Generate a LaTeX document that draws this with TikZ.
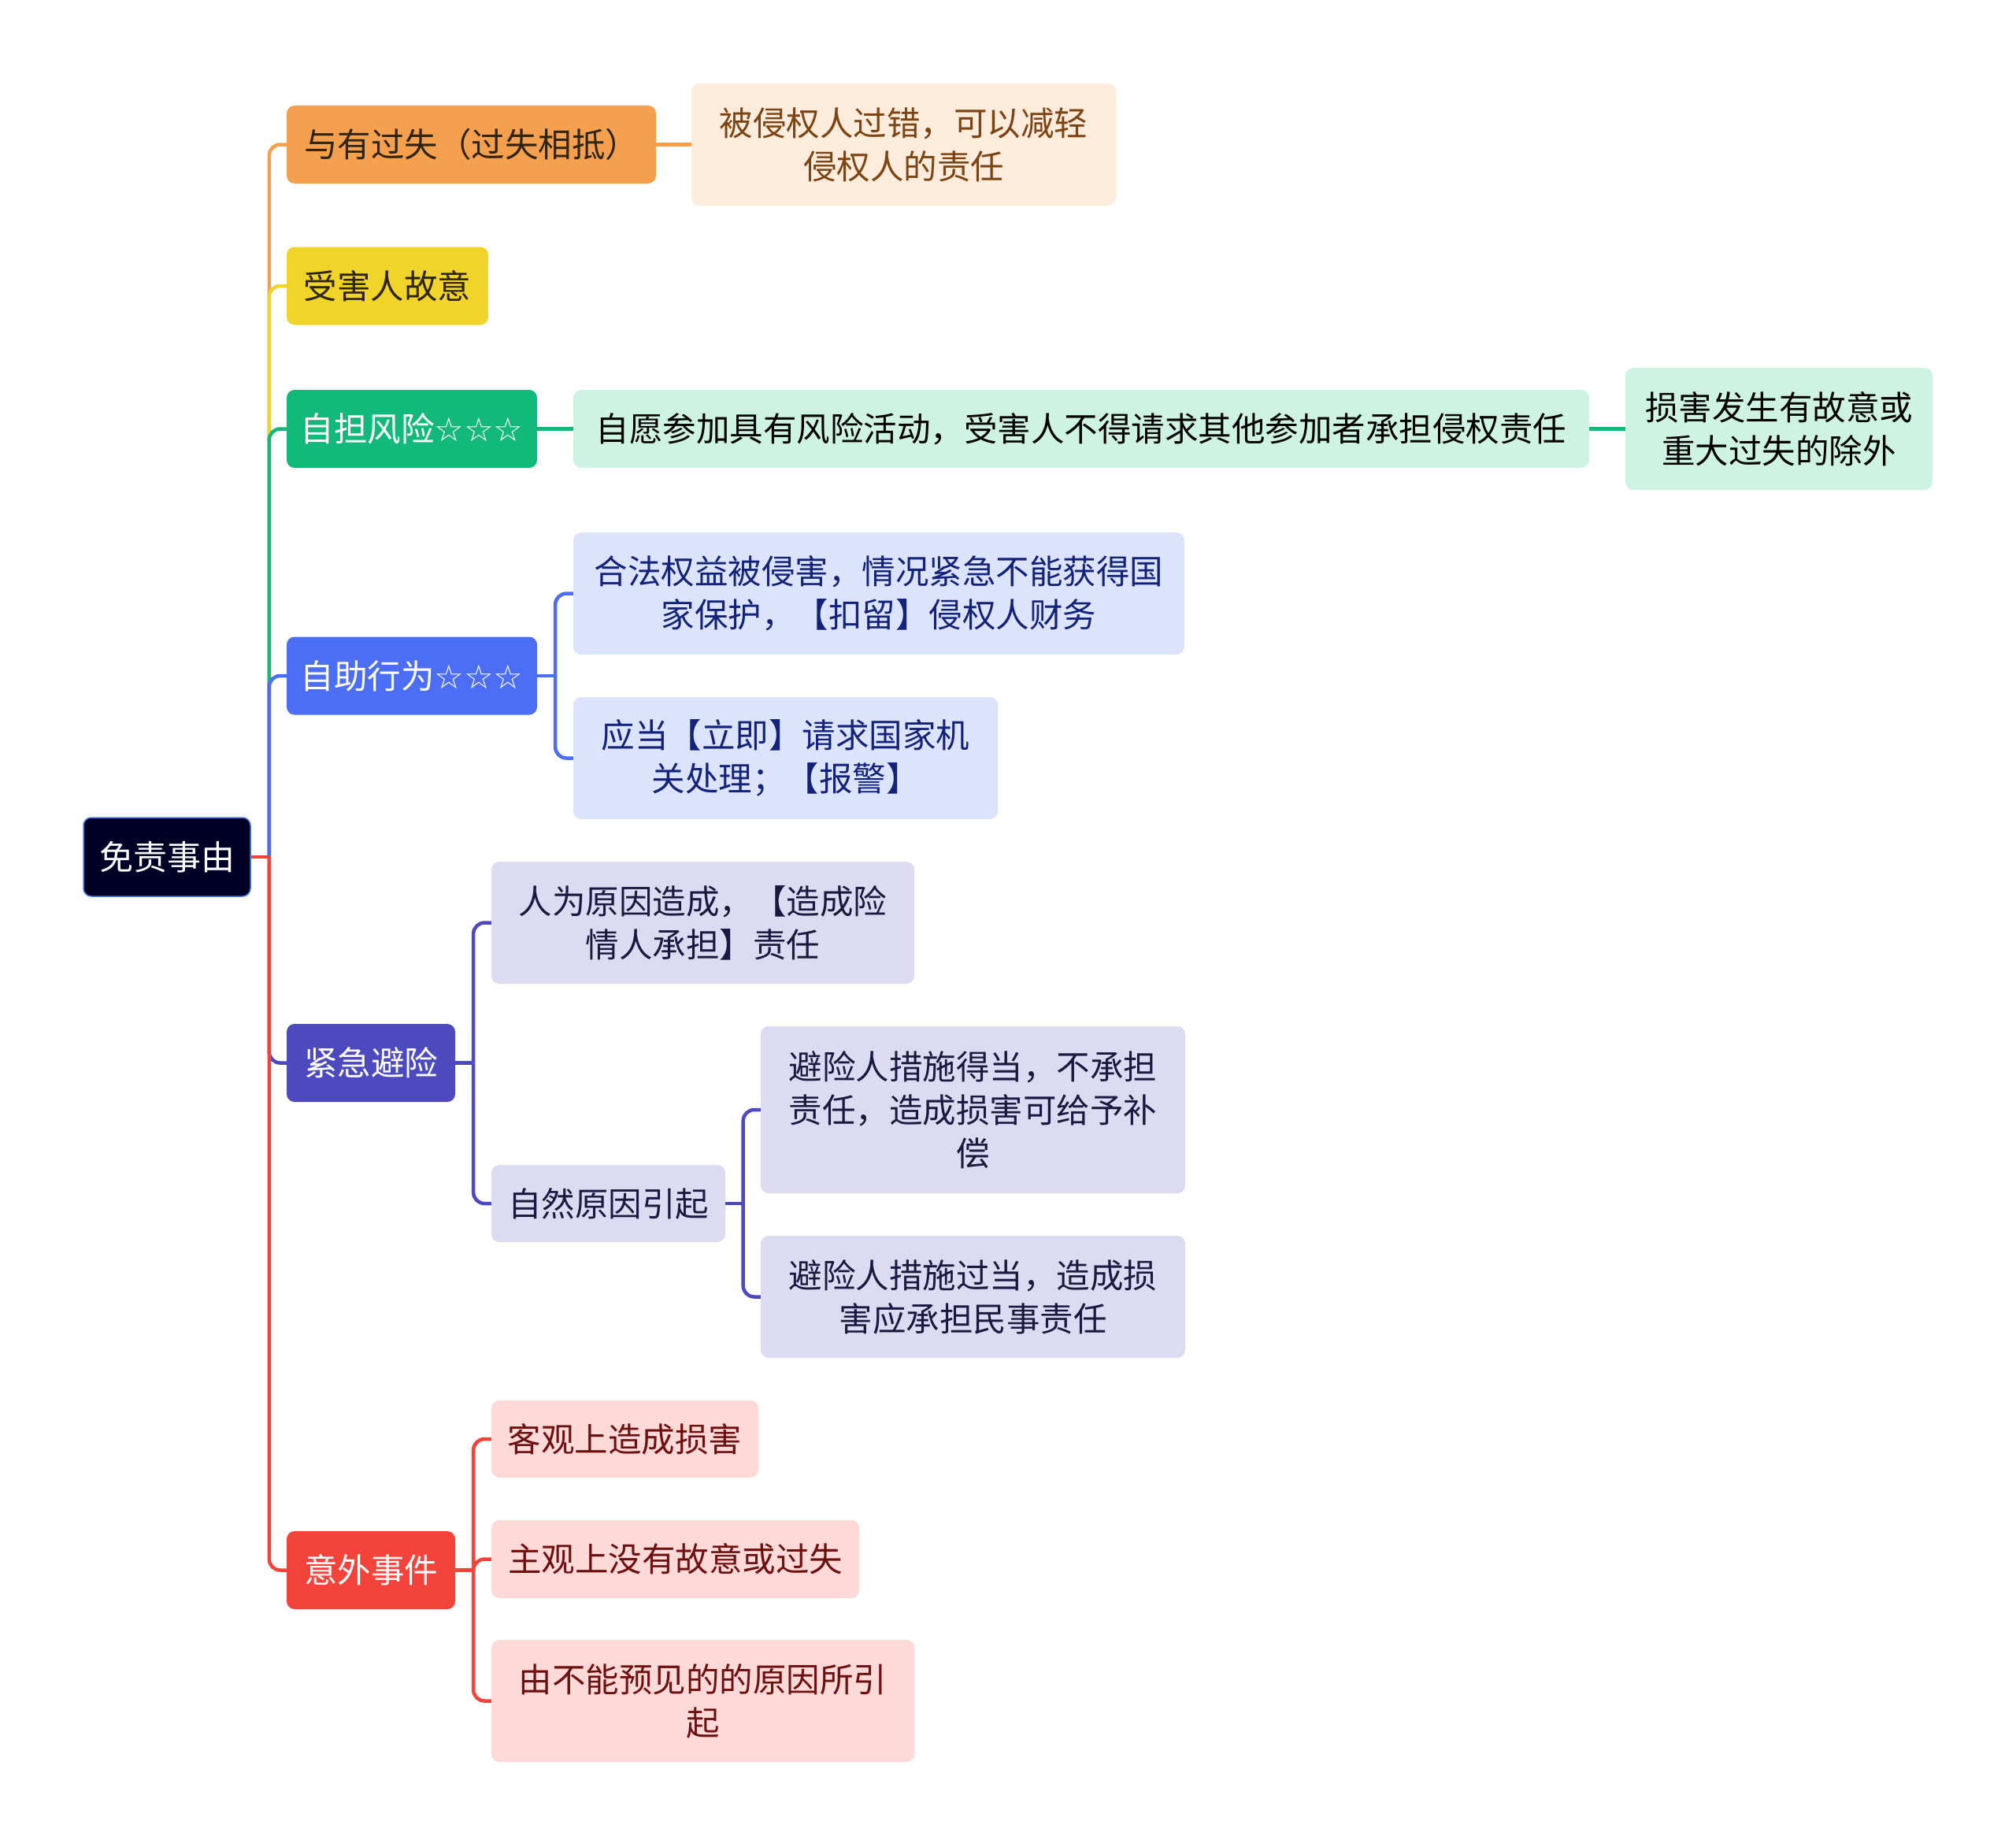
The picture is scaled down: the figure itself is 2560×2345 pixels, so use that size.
\documentclass[tikz,border=0pt]{standalone}
\usepackage{fontspec}
\setmainfont{Noto Sans CJK SC}
\newfontfamily\starfont{DejaVu Sans}
\usetikzlibrary{positioning}
\definecolor{RootFill}{HTML}{000026}
\definecolor{RootLine}{HTML}{4A7BE0}
\definecolor{OrangeMain}{HTML}{F5A04F}
\definecolor{OrangeLight}{HTML}{FDEBDB}
\definecolor{OrangeText}{HTML}{7C4413}
\definecolor{YellowMain}{HTML}{F1D42A}
\definecolor{GreenMain}{HTML}{12B97A}
\definecolor{GreenLight}{HTML}{CFF3E3}
\definecolor{BlueMain}{HTML}{4C6EF5}
\definecolor{BlueLight}{HTML}{DBE3FD}
\definecolor{BlueText}{HTML}{14237A}
\definecolor{PurpleMain}{HTML}{4D49BE}
\definecolor{PurpleLight}{HTML}{DCDBF2}
\definecolor{PurpleText}{HTML}{1A1A40}
\definecolor{RedMain}{HTML}{F4433A}
\definecolor{RedLight}{HTML}{FDDAD8}
\definecolor{RedText}{HTML}{6E1010}
\definecolor{DarkText}{HTML}{2E2410}
\newcommand{\threestars}{{\starfont\fontsize{42}{54}\selectfont ☆☆☆}}

\begin{document}
\begin{tikzpicture}[
  x=1pt, y=-1pt,
  topic/.style={rounded corners=10pt, inner sep=0pt, align=center, font=\fontsize{42.5}{55}\selectfont},
  rootbox/.style={topic, fill=RootFill, draw=RootLine, line width=1.5pt, text=white, font=\fontsize{43}{55}\selectfont},
  link/.style={line width=4.5pt, rounded corners=14pt}
]
  \useasboundingbox (0,0) rectangle (2560,2345);

  % root and first level
  \node[rootbox, minimum width=212pt, minimum height=100pt] (root) at (212,1088) {免责事由};
  \node[topic, fill=OrangeMain, text=DarkText, minimum width=469pt, minimum height=99pt] (guoshi) at (598.5,183.5) {与有过失（过失相抵）};
  \node[topic, fill=YellowMain, text=DarkText, minimum width=256pt, minimum height=99pt] (guyi) at (492,363) {受害人故意};
  \node[topic, fill=GreenMain, text=white, minimum width=318pt, minimum height=99pt] (fengxian) at (523,544.5) {自担风险\threestars};
  \node[topic, fill=BlueMain, text=white, minimum width=318pt, minimum height=99pt] (zizhu) at (523,858) {自助行为\threestars};
  \node[topic, fill=PurpleMain, text=white, minimum width=214pt, minimum height=99pt] (bixian) at (471,1349.5) {紧急避险};
  \node[topic, fill=RedMain, text=white, minimum width=214pt, minimum height=99pt] (yiwai) at (471,1993.5) {意外事件};

  % leaves
  \node[topic, fill=OrangeLight, text=OrangeText, minimum width=539pt, minimum height=155pt] (guoshiA) at (1147.5,183.5) {被侵权人过错，可以减轻\\侵权人的责任};
  \node[topic, fill=GreenLight, text=black, minimum width=1290pt, minimum height=99pt] (fengxianA) at (1373,544.5) {自愿参加具有风险活动，受害人不得请求其他参加者承担侵权责任};
  \node[topic, fill=GreenLight, text=black, minimum width=390pt, minimum height=155pt] (fengxianB) at (2259,544.5) {损害发生有故意或\\重大过失的除外};
  \node[topic, fill=BlueLight, text=BlueText, minimum width=776pt, minimum height=155pt] (zizhuA) at (1116,753.5) {合法权益被侵害，情况紧急不能获得国\\家保护，【扣留】侵权人财务};
  \node[topic, fill=BlueLight, text=BlueText, minimum width=539pt, minimum height=155pt] (zizhuB) at (997.5,962.5) {应当【立即】请求国家机\\关处理；【报警】};
  \node[topic, fill=PurpleLight, text=PurpleText, minimum width=537pt, minimum height=155pt] (bixianA) at (892.5,1171.5) {人为原因造成，【造成险\\情人承担】责任};
  \node[topic, fill=PurpleLight, text=PurpleText, minimum width=297pt, minimum height=98pt] (bixianB) at (772.5,1528) {自然原因引起};
  \node[topic, fill=PurpleLight, text=PurpleText, minimum width=539pt, minimum height=212pt] (ziranA) at (1235.5,1409) {避险人措施得当，不承担\\责任，造成损害可给予补\\偿};
  \node[topic, fill=PurpleLight, text=PurpleText, minimum width=539pt, minimum height=155pt] (ziranB) at (1235.5,1646.5) {避险人措施过当，造成损\\害应承担民事责任};
  \node[topic, fill=RedLight, text=RedText, minimum width=339pt, minimum height=98pt] (yiwaiA) at (793.5,1827) {客观上造成损害};
  \node[topic, fill=RedLight, text=RedText, minimum width=467pt, minimum height=99pt] (yiwaiB) at (857.5,1979.5) {主观上没有故意或过失};
  \node[topic, fill=RedLight, text=RedText, minimum width=537pt, minimum height=155pt] (yiwaiC) at (892.5,2159.5) {由不能预见的的原因所引\\起};

  % connectors
  \coordinate[right=23pt of root.east] (rootj);
  \foreach \child/\col in {guoshi/OrangeMain, guyi/YellowMain, fengxian/GreenMain, zizhu/BlueMain, bixian/PurpleMain, yiwai/RedMain}
    \draw[link, draw=\col] (rootj) |- (\child.west);
  \draw[link, draw=RedMain] (root.east) -- (rootj);

  \draw[link, draw=OrangeMain] (guoshi.east) -- (guoshiA.west);
  \draw[link, draw=GreenMain] (fengxian.east) -- (fengxianA.west);
  \draw[link, draw=GreenMain] (fengxianA.east) -- (fengxianB.west);

  \coordinate[right=23pt of zizhu.east] (zizhuj);
  \foreach \child in {zizhuA, zizhuB}
    \draw[link, draw=BlueMain] (zizhuj) |- (\child.west);
  \draw[link, draw=BlueMain] (zizhu.east) -- (zizhuj);

  \coordinate[right=23pt of bixian.east] (bixianj);
  \foreach \child in {bixianA, bixianB}
    \draw[link, draw=PurpleMain] (bixianj) |- (\child.west);
  \draw[link, draw=PurpleMain] (bixian.east) -- (bixianj);

  \coordinate[right=22.5pt of bixianB.east] (ziranj);
  \foreach \child in {ziranA, ziranB}
    \draw[link, draw=PurpleMain] (ziranj) |- (\child.west);
  \draw[link, draw=PurpleMain] (bixianB.east) -- (ziranj);

  \coordinate[right=23pt of yiwai.east] (yiwaij);
  \foreach \child in {yiwaiA, yiwaiB, yiwaiC}
    \draw[link, draw=RedMain] (yiwaij) |- (\child.west);
  \draw[link, draw=RedMain] (yiwai.east) -- (yiwaij);
\end{tikzpicture}
\end{document}
